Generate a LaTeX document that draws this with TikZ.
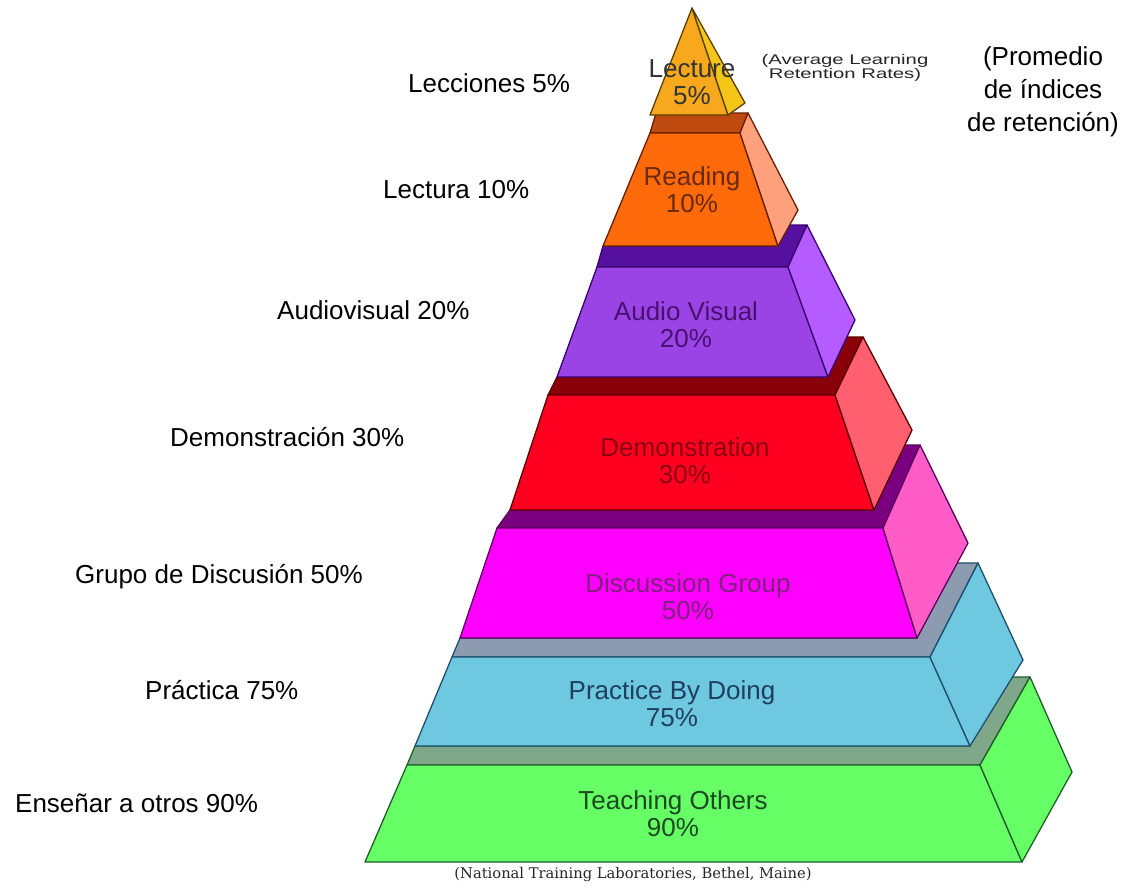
\documentclass[tikz,border=0pt]{standalone}
\usepackage{fontspec}
\setmainfont{Liberation Sans}
\newfontfamily\capfont{DejaVu Serif}
\definecolor{tfront}{HTML}{66FF66}\definecolor{ttop}{HTML}{7FA88A}\definecolor{tedge}{HTML}{1F5F2A}\definecolor{ttext}{HTML}{1A4A20}
\definecolor{pfront}{HTML}{6EC8E0}\definecolor{ptop}{HTML}{8D9BB0}\definecolor{pedge}{HTML}{1F4F6F}\definecolor{ptext}{HTML}{1F3F5F}
\definecolor{dfront}{HTML}{FF00FF}\definecolor{dside}{HTML}{FF5CC8}\definecolor{dtop}{HTML}{7A007F}\definecolor{dedge}{HTML}{5A005F}\definecolor{dtext}{HTML}{80207F}
\definecolor{mfront}{HTML}{FF0020}\definecolor{mside}{HTML}{FF5F6F}\definecolor{mtop}{HTML}{8A0008}\definecolor{medge}{HTML}{5A0000}\definecolor{mtext}{HTML}{8B0010}
\definecolor{afront}{HTML}{9A44E6}\definecolor{aside}{HTML}{B45CFF}\definecolor{atop}{HTML}{5510A0}\definecolor{aedge}{HTML}{3A0070}\definecolor{atext}{HTML}{4A1070}
\definecolor{rfront}{HTML}{FF6A0A}\definecolor{rside}{HTML}{FFA07C}\definecolor{rtop}{HTML}{BF4A10}\definecolor{redge}{HTML}{6A2000}\definecolor{rtext}{HTML}{6B2A10}
\definecolor{lfront}{HTML}{F8A81C}\definecolor{lside}{HTML}{F5C518}\definecolor{ledge}{HTML}{5A4000}\definecolor{ltext}{HTML}{333333}
\begin{document}
\begin{tikzpicture}[x=1pt,y=-1pt,
  face/.style={line width=1.3pt,line join=round},
  lbl/.style={anchor=west,font=\fontsize{26}{30}\selectfont,inner sep=0pt},
  ltxt/.style={align=center,font=\fontsize{26}{27}\selectfont,inner sep=0pt}]
\useasboundingbox (0,0) rectangle (1126,889);
\fill[white] (0,0) rectangle (1126,889);
% Teaching
\filldraw[face,fill=ttop,draw=tedge] (407,765) -- (980,765) -- (1030,677) -- (970,677) -- (970,746) -- (415,746) -- cycle;
\filldraw[face,fill=tfront,draw=tedge] (407,765) -- (980,765) -- (1022,862) -- (365,862) -- cycle;
\filldraw[face,fill=tfront,draw=tedge] (980,765) -- (1022,862) -- (1072,772) -- (1030,677) -- cycle;
% Practice
\filldraw[face,fill=ptop,draw=pedge] (452,657) -- (930,657) -- (978,563) -- (917,563) -- (917,638) -- (460,638) -- cycle;
\filldraw[face,fill=pfront,draw=pedge] (452,657) -- (930,657) -- (970,746) -- (415,746) -- cycle;
\filldraw[face,fill=pfront,draw=pedge] (930,657) -- (970,746) -- (1023,660) -- (978,563) -- cycle;
% Discussion
\filldraw[face,fill=dtop,draw=dedge] (497,528) -- (883,528) -- (920,445) -- (874,445) -- (874,510) -- (510,510) -- cycle;
\filldraw[face,fill=dfront,draw=dedge] (497,528) -- (883,528) -- (917,638) -- (460,638) -- cycle;
\filldraw[face,fill=dside,draw=dedge] (883,528) -- (917,638) -- (968,543) -- (920,445) -- cycle;
% Demonstration
\filldraw[face,fill=mtop,draw=medge] (548,395) -- (835,395) -- (863,337) -- (828,337) -- (828,377) -- (557,377) -- cycle;
\filldraw[face,fill=mfront,draw=medge] (548,395) -- (835,395) -- (874,510) -- (510,510) -- cycle;
\filldraw[face,fill=mside,draw=medge] (835,395) -- (874,510) -- (912,430) -- (863,337) -- cycle;
% Audio Visual
\filldraw[face,fill=atop,draw=aedge] (597,267) -- (788,267) -- (807,225) -- (778,225) -- (778,246) -- (603,246) -- cycle;
\filldraw[face,fill=afront,draw=aedge] (597,267) -- (788,267) -- (828,377) -- (557,377) -- cycle;
\filldraw[face,fill=aside,draw=aedge] (788,267) -- (828,377) -- (855,320) -- (807,225) -- cycle;
% Reading
\filldraw[face,fill=rtop,draw=redge] (650,133) -- (740,133) -- (748,113) -- (656,113) -- cycle;
\filldraw[face,fill=rfront,draw=redge] (650,133) -- (740,133) -- (778,246) -- (603,246) -- cycle;
\filldraw[face,fill=rside,draw=redge] (740,133) -- (778,246) -- (798,210) -- (748,113) -- cycle;
% Lecture
\filldraw[face,fill=lfront,draw=ledge] (692,8) -- (728,115) -- (650,115) -- cycle;
\filldraw[face,fill=lside,draw=ledge] (692,8) -- (728,115) -- (745,103) -- cycle;
% layer texts
\node[ltxt,text=ltext] (lec) at (692,82) {Lecture\\5\%};
\node[ltxt,text=rtext] (rea) at (692,190) {Reading\\10\%};
\node[ltxt,text=atext] (aud) at (686,325) {Audio Visual\\20\%};
\node[ltxt,text=mtext] (dem) at (685,461) {Demonstration\\30\%};
\node[ltxt,text=dtext] (dis) at (688,597) {Discussion Group\\50\%};
\node[ltxt,text=ptext] (pra) at (672,704) {Practice By Doing\\75\%};
\node[ltxt,text=ttext] (tea) at (673,814) {Teaching Others\\90\%};
% left labels
\node[lbl] (l1) at (408,83) {Lecciones 5\%};
\node[lbl] (l2) at (383,190) {Lectura 10\%};
\node[lbl] (l3) at (277,310) {Audiovisual 20\%};
\node[lbl] (l4) at (170,437) {Demonstración 30\%};
\node[lbl] (l5) at (75,577) {Grupo de Discusión 50\%};
\node[lbl] (l6) at (145,690) {Práctica 75\%};
\node[lbl] (l7) at (15,803) {Enseñar a otros 90\%};
% right notes
\node[align=center,inner sep=0pt,font=\fontsize{26}{33}\selectfont] (prom) at (1043,92) {(Promedio\\de índices\\de retención)};
\node[align=center,inner sep=0pt,font=\fontsize{14}{14}\selectfont,xscale=1.45,text=black!85] (avg) at (845,68) {(Average Learning\\Retention Rates)};
\node[inner sep=0pt,font=\capfont\fontsize{14.7}{16}\selectfont,text=black!85] (cap) at (633,875) {(National Training Laboratories, Bethel, Maine)};
\end{tikzpicture}
\end{document}
